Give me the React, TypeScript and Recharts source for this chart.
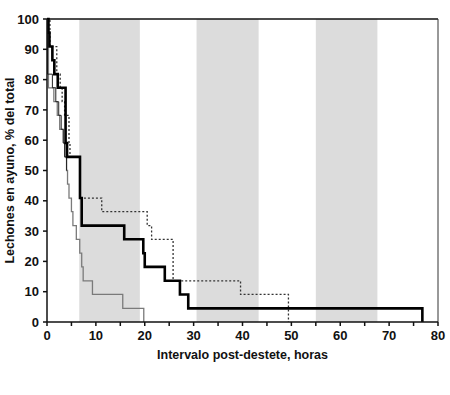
import React from "react";
import { LineChart, Line, XAxis, YAxis, ReferenceArea, ReferenceLine } from "recharts";

// Kaplan-Meier style curves, % of piglets still fasting vs hours post-weaning
const thickBlack = [
  { x: 0, y: 100 }, { x: 0.3, y: 95.5 }, { x: 0.5, y: 90.9 }, { x: 1.1, y: 86.4 },
  { x: 1.5, y: 81.8 }, { x: 2.2, y: 77.3 }, { x: 3.8, y: 59.1 }, { x: 4.1, y: 54.5 },
  { x: 6.75, y: 40.9 }, { x: 7.1, y: 31.8 }, { x: 15.8, y: 27.3 }, { x: 19.7, y: 22.7 },
  { x: 20.0, y: 18.2 }, { x: 24.1, y: 13.6 }, { x: 27.2, y: 9.1 }, { x: 28.9, y: 4.5 },
  { x: 76.8, y: 0 },
];

const dotted = [
  { x: 0, y: 100 }, { x: 0.6, y: 90.9 }, { x: 2.0, y: 81.8 }, { x: 2.7, y: 77.3 },
  { x: 3.1, y: 72.7 }, { x: 3.6, y: 68.2 }, { x: 4.5, y: 59.1 }, { x: 4.7, y: 54.5 },
  { x: 6.8, y: 40.9 }, { x: 11.2, y: 36.4 }, { x: 20.5, y: 31.8 }, { x: 21.4, y: 27.3 },
  { x: 25.8, y: 13.6 }, { x: 39.6, y: 9.1 }, { x: 49.4, y: 0 },
];

const thinBlack = [
  { x: 0, y: 100 }, { x: 0.1, y: 81.8 }, { x: 1.1, y: 77.3 }, { x: 1.8, y: 72.7 },
  { x: 2.4, y: 68.2 }, { x: 2.9, y: 63.6 }, { x: 3.3, y: 59.1 }, { x: 3.6, y: 54.5 },
  { x: 4.0, y: 50 },
];

const gray = [
  { x: 0, y: 100 }, { x: 0.3, y: 77.3 }, { x: 1.4, y: 72.7 }, { x: 2.1, y: 68.2 },
  { x: 2.6, y: 63.6 }, { x: 3.4, y: 59.1 }, { x: 3.7, y: 54.5 }, { x: 4.0, y: 50 },
  { x: 4.2, y: 45.5 }, { x: 4.5, y: 40.9 }, { x: 5.0, y: 36.4 }, { x: 5.3, y: 31.8 },
  { x: 6.0, y: 27.3 }, { x: 6.7, y: 22.7 }, { x: 7.1, y: 18.2 }, { x: 7.4, y: 13.6 },
  { x: 9.3, y: 9.1 }, { x: 15.5, y: 4.5 }, { x: 19.8, y: 0 },
];

// shaded night periods (hours)
const bands = [
  [6.6, 19.0],
  [30.6, 43.3],
  [55.0, 67.6],
];

const xTicks = [0, 5, 10, 15, 20, 25, 30, 35, 40, 45, 50, 55, 60, 65, 70, 75, 80];
const yTicks = [0, 10, 20, 30, 40, 50, 60, 70, 80, 90, 100];

const font = "'Liberation Sans', Arial, sans-serif";
const tickStyle = { fill: "#111", fontSize: 13, fontWeight: 700, fontFamily: font };
const titleStyle = { fill: "#111", fontSize: 12.5, fontWeight: 700, fontFamily: font };

function YTitle(props: any) {
  const vb = props.viewBox;
  const cy = vb.y + vb.height / 2;
  return (
    <g transform={`translate(14, ${cy}) rotate(-90)`}>
      <text x={0} y={0} textAnchor="middle" style={titleStyle}>
        Lechones en ayuno, % del total
      </text>
    </g>
  );
}

export default function App() {
  return (
    <div style={{ position: "absolute", left: 0, top: 0, width: 450, height: 395, background: "#fff" }}>
      <LineChart width={450} height={395} margin={{ top: 19, right: 12, left: 8, bottom: 24 }} style={{ overflow: "visible" }}>
        {bands.map(([a, b], i) => (
          <ReferenceArea key={i} x1={a} x2={b} y1={0} y2={100} fill="#dcdcdc" fillOpacity={1} stroke="none" />
        ))}
        <XAxis
          type="number"
          dataKey="x"
          domain={[0, 80]}
          ticks={xTicks}
          tickFormatter={(v: number) => (v % 10 === 0 ? String(v) : "")}
          interval={0}
          allowDataOverflow
          stroke="#111"
          strokeWidth={1.5}
          tickSize={4}
          tickMargin={5}
          tick={tickStyle}
          height={49}
          label={{ value: "Intervalo post-destete, horas", position: "insideBottom", offset: 12, style: titleStyle }}
        />
        <YAxis
          type="number"
          dataKey="y"
          domain={[0, 100]}
          ticks={yTicks}
          interval={0}
          stroke="#111"
          strokeWidth={1.5}
          tickSize={4}
          tickMargin={4}
          width={39}
          tick={tickStyle}
          label={<YTitle />}
        />
        <ReferenceLine y={100} stroke="#111" strokeWidth={1.5} />
        <ReferenceLine x={80} stroke="#333" strokeWidth={1} />
        <Line data={gray} dataKey="y" type="stepAfter" stroke="#7a7a7a" strokeWidth={1.3} dot={false} isAnimationActive={false} />
        <Line data={thinBlack} dataKey="y" type="stepAfter" stroke="#222" strokeWidth={1} dot={false} isAnimationActive={false} />
        <Line data={dotted} dataKey="y" type="stepAfter" stroke="#333" strokeWidth={1.3} strokeDasharray="2 2" dot={false} isAnimationActive={false} />
        <Line data={thickBlack} dataKey="y" type="stepAfter" stroke="#000" strokeWidth={2.6} dot={false} isAnimationActive={false} />
      </LineChart>
    </div>
  );
}
